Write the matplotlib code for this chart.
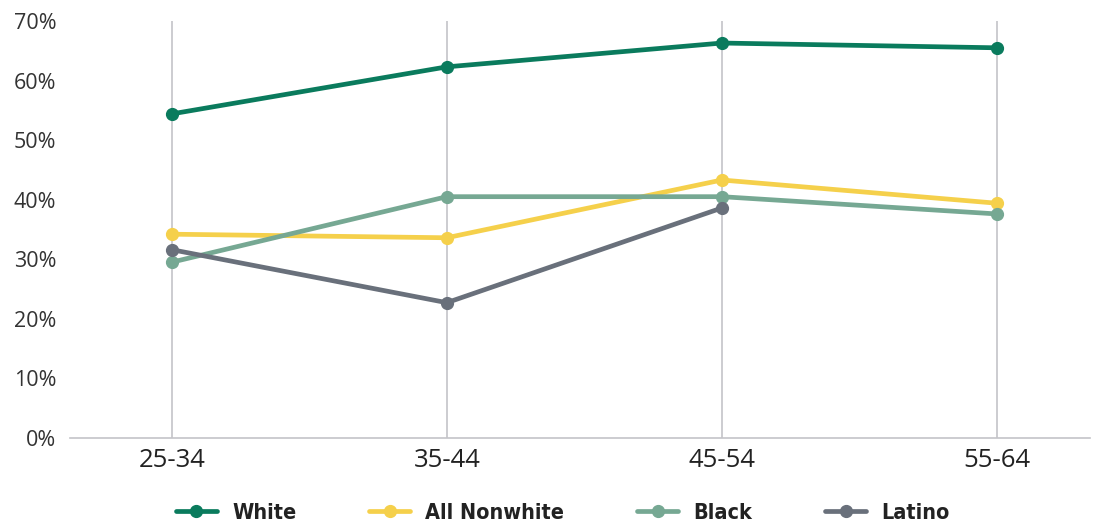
import numpy as np
import matplotlib.pyplot as plt
from matplotlib.ticker import PercentFormatter

ages = ["25-34", "35-44", "45-54", "55-64"]
white = [54.4, 62.3, 66.3, 65.5]
nonwhite = [34.2, 33.6, 43.3, 39.4]
black = [29.5, 40.5, 40.5, 37.6]
latino = [31.6, 22.7, 38.6, np.nan]

series = [
    ("White", white, "#0a7b5d"),
    ("All Nonwhite", nonwhite, "#f5d04b"),
    ("Black", black, "#76a893"),
    ("Latino", latino, "#69707b"),
]

plt.rcParams['font.family'] = ['Open Sans', 'DejaVu Sans']

fig = plt.figure(figsize=(11.03, 5.25), dpi=100)
ax = fig.add_axes([0.0635, 0.166, 0.925, 0.794])

x = np.arange(len(ages))
for name, vals, color in series:
    ax.plot(x, vals, color=color, lw=3.4, marker='o', ms=8.5,
            label=name, solid_capstyle='round', zorder=3)

ax.set_xlim(-0.37, 3.34)
ax.set_ylim(0, 70)
ax.set_yticks(range(0, 71, 10))
ax.yaxis.set_major_formatter(PercentFormatter(decimals=0))
ax.set_xticks(x)
ax.set_xticklabels(ages)
ax.grid(axis='x', color='#c4c4c8', lw=1.2, zorder=1)
for s in ['top', 'right', 'left']:
    ax.spines[s].set_visible(False)
ax.spines['bottom'].set_color('#c4c4c8')
ax.spines['bottom'].set_linewidth(1.2)
ax.tick_params(axis='both', length=0, labelsize=15.5, colors='#333333')
ax.tick_params(axis='x', pad=7, labelsize=18.5, labelcolor='#222222')
ax.tick_params(axis='y', pad=10)

leg = ax.legend(loc='center', bbox_to_anchor=(0.483, -0.18), ncol=4,
                frameon=False, handlelength=1.9, handletextpad=0.7,
                columnspacing=3.4,
                prop={'family': 'DejaVu Sans', 'stretch': 'condensed',
                      'weight': 'bold', 'size': 15.5})
for t in leg.get_texts():
    t.set_color('#222222')

fig.savefig("out.png", dpi=100)
